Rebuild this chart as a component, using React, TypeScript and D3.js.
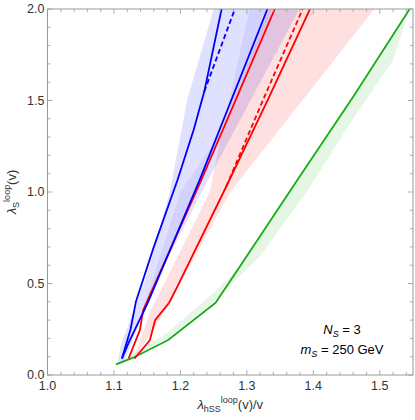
import * as d3 from 'd3';

type Pt = [number, number];

// solid curves
const blueSolidA: Pt[] = [[1.112, 0.09], [1.125, 0.25], [1.133, 0.4], [1.16, 0.7], [1.196, 1.07], [1.22, 1.34], [1.236, 1.55], [1.262, 2.0]];
const blueSolidB: Pt[] = [[1.112, 0.09], [1.122, 0.175], [1.151, 0.395], [1.229, 1.066], [1.331, 2.0]];
const blueDashed: Pt[] = [[1.236, 1.55], [1.282, 2.0]];
const redSolidA: Pt[] = [[1.122, 0.09], [1.139, 0.245], [1.144, 0.355], [1.2315, 1.066], [1.342, 2.0]];
const redSolidB: Pt[] = [[1.131, 0.09], [1.154, 0.19], [1.162, 0.3], [1.183, 0.395], [1.195, 0.48], [1.269, 1.03], [1.3315, 1.503], [1.395, 2.0]];
const redDashed: Pt[] = [[1.269, 1.03], [1.324, 1.5], [1.384, 2.0]];
const greenSolid: Pt[] = [[1.103, 0.058], [1.131, 0.098], [1.181, 0.19], [1.253, 0.395], [1.289, 0.59], [1.376, 1.066], [1.46, 1.52], [1.545, 2.0]];

// shaded bands (outline as closed polygons)
const blueBand: Pt[] = [
  [1.105, 0.05], [1.11, 0.16], [1.15, 0.55], [1.184, 1.0], [1.21, 1.5], [1.25, 2.0],
  [1.379, 2.0], [1.279, 1.32], [1.232, 1.0], [1.155, 0.45], [1.128, 0.19], [1.115, 0.07]
];
const blueBand2: Pt[] = [
  [1.13, 0.2], [1.2, 1.0], [1.264, 1.34], [1.304, 2.0], [1.338, 2.0], [1.2315, 1.066], [1.144, 0.355]
];
const redBand: Pt[] = [
  [1.13, 0.09], [1.155, 0.35], [1.244, 1.0], [1.262, 1.32], [1.334, 2.0],
  [1.492, 2.0], [1.275, 1.0], [1.177, 0.35], [1.14, 0.14]
];
const greenBand: Pt[] = [
  [1.105, 0.06], [1.13, 0.115], [1.18, 0.23], [1.25, 0.45], [1.289, 0.59], [1.376, 1.066], [1.46, 1.52], [1.545, 2.0],
  [1.52, 1.72], [1.46, 1.4], [1.39, 1.0], [1.32, 0.65], [1.25, 0.4], [1.18, 0.2], [1.13, 0.1]
];

const xTicks = [1.0, 1.1, 1.2, 1.3, 1.4, 1.5];
const yTicks = [0.0, 0.5, 1.0, 1.5, 2.0];

export default function App() {
  const width = 415;
  const height = 420;
  const margin = { top: 9, right: 2, bottom: 45, left: 47.5 };

  const x = d3.scaleLinear().domain([1.0, 1.55]).range([margin.left, width - margin.right]);
  const y = d3.scaleLinear().domain([0, 2]).range([height - margin.bottom, margin.top]);

  const line = d3.line<Pt>().x((d) => x(d[0])).y((d) => y(d[1]));
  const poly = (pts: Pt[]) => line(pts) + 'Z';

  const x0 = x.range()[0], x1 = x.range()[1];
  const y0 = y.range()[0], y1 = y.range()[1];

  const xMinor = d3.range(1.0, 1.5501, 0.02);
  const yMinor = d3.range(0, 2.001, 0.1);
  const isMajorX = (v: number) => Math.abs(v * 10 - Math.round(v * 10)) < 1e-6;
  const isMajorY = (v: number) => Math.abs(v * 2 - Math.round(v * 2)) < 1e-6;

  const font = 'Liberation Sans, Arial, sans-serif';
  const frame = '#999';

  return (
    <svg width={width} height={height} style={{ position: 'absolute', left: 0, top: 0 }}>
      <defs>
        <clipPath id='plot'>
          <rect x={x0} y={y1} width={x1 - x0} height={y0 - y1} />
        </clipPath>
      </defs>
      <g clipPath='url(#plot)'>
        <path d={poly(greenBand)} fill='rgba(0,170,0,0.1)' />
        <path d={poly(blueBand)} fill='rgba(0,0,255,0.12)' />
        <path d={poly(blueBand2)} fill='rgba(0,0,255,0.06)' />
        <path d={poly(redBand)} fill='rgba(255,0,0,0.12)' />
        <g fill='none' strokeWidth={1.8} strokeLinejoin='round'>
          <path d={line(greenSolid)!} stroke='#1aab1a' />
          <path d={line(redSolidB)!} stroke='#ff0000' />
          <path d={line(redDashed)!} stroke='#ff0000' strokeDasharray='5,3' />
          <path d={line(redSolidA)!} stroke='#ff0000' />
          <path d={line(blueSolidB)!} stroke='#0000ff' />
          <path d={line(blueSolidA)!} stroke='#0000ff' />
          <path d={line(blueDashed)!} stroke='#0000ff' strokeDasharray='5,3' />
        </g>
      </g>
      {/* frame + inward ticks */}
      <rect x={x0} y={y1} width={x1 - x0} height={y0 - y1} fill='none' stroke={frame} strokeWidth={1} />
      <g stroke={frame} strokeWidth={0.8}>
        {xMinor.map((v, i) => {
          const l = isMajorX(v) ? 5 : 3;
          return (
            <g key={'xt' + i}>
              <line x1={x(v)} x2={x(v)} y1={y0} y2={y0 - l} />
              <line x1={x(v)} x2={x(v)} y1={y1} y2={y1 + l} />
            </g>
          );
        })}
        {yMinor.map((v, i) => {
          const l = isMajorY(v) ? 5 : 3;
          return (
            <g key={'yt' + i}>
              <line x1={x0} x2={x0 + l} y1={y(v)} y2={y(v)} />
              <line x1={x1} x2={x1 - l} y1={y(v)} y2={y(v)} />
            </g>
          );
        })}
      </g>
      <g fontFamily={font} fontSize={12.5} fill='#333'>
        {xTicks.map((v) => (
          <text key={'xl' + v} x={x(v)} y={y0 + 15} textAnchor='middle'>{v.toFixed(1)}</text>
        ))}
        {yTicks.map((v) => (
          <text key={'yl' + v} x={x0 - 3} y={y(v) + 4} textAnchor='end'>{v.toFixed(1)}</text>
        ))}
      </g>
      {/* axis labels */}
      <text x={(x0 + x1) / 2} y={409} textAnchor='middle' fontFamily={font} fontSize={13} fill='#333'>
        <tspan fontStyle='italic'>λ</tspan>
        <tspan fontSize={9} dy={3}>hSS</tspan>
        <tspan fontSize={9} dy={-9}>loop</tspan>
        <tspan dy={6}>(v)/v</tspan>
      </text>
      <text transform={`translate(16,${(y0 + y1) / 2}) rotate(-90)`} textAnchor='middle' fontFamily={font} fontSize={13} fill='#333'>
        <tspan fontStyle='italic'>λ</tspan>
        <tspan fontSize={9} dy={3}>S</tspan>
        <tspan fontSize={9} dy={-9}>loop</tspan>
        <tspan dy={6}>(v)</tspan>
      </text>
      {/* annotation */}
      <g fontFamily={font} fontSize={13} fill='#000' textAnchor='middle'>
        <text x={342} y={334}>
          <tspan fontStyle='italic'>N</tspan>
          <tspan fontStyle='italic' fontSize={9} dy={3}>S</tspan>
          <tspan dy={-3}> = 3</tspan>
        </text>
        <text x={342} y={354}>
          <tspan fontStyle='italic'>m</tspan>
          <tspan fontStyle='italic' fontSize={9} dy={3}>S</tspan>
          <tspan dy={-3}> = 250 GeV</tspan>
        </text>
      </g>
    </svg>
  );
}
